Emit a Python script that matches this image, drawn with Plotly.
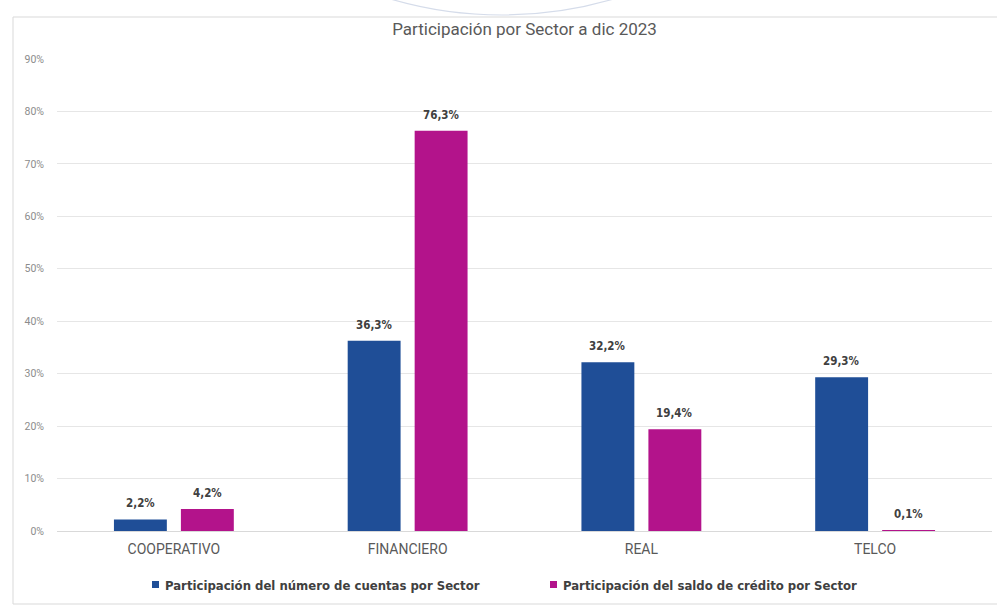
import plotly.graph_objects as go

sectores = ["COOPERATIVO", "FINANCIERO", "REAL", "TELCO"]
cuentas = [2.2, 36.3, 32.2, 29.3]
saldo = [4.2, 76.3, 19.4, 0.1]
serie_cuentas = "Participación del número de cuentas por Sector"
serie_saldo = "Participación del saldo de crédito por Sector"
ticks_y = [0, 10, 20, 30, 40, 50, 60, 70, 80, 90]

AZUL = "#1F4E97"
MAGENTA = "#B3138B"
FONT = "DejaVu Sans Condensed, Roboto, Arial"

W, H = 997, 606
L, R, T, B = 57, 5, 59, 75
OFFSET = 33.5  # horizontal distance from category centre to each bar centre


def etiqueta(v):
    return f"{v:.1f}".replace(".", ",") + "%"


pw = W - L - R
ph = H - T - B


def px_x(x):
    return (x - L) / pw


def px_y(y):
    return (H - B - y) / ph


fig = go.Figure()
for nombre, vals, color in [(serie_cuentas, cuentas, AZUL), (serie_saldo, saldo, MAGENTA)]:
    fig.add_trace(go.Bar(
        x=sectores, y=vals, name=nombre,
        marker=dict(color=color, line=dict(width=0)),
        hoverinfo="skip", showlegend=False,
    ))

# value labels above each bar
for vals, shift in [(cuentas, -OFFSET), (saldo, OFFSET)]:
    for cat, v in zip(sectores, vals):
        fig.add_annotation(x=cat, y=v, xref="x", yref="y", xshift=shift, yshift=7,
                           text=etiqueta(v), showarrow=False, yanchor="bottom",
                           font=dict(family=FONT, size=11.5, color="#404040", weight="bold"))

# legend drawn as small squares + labels
for nombre, color, xs in [(serie_cuentas, AZUL, 155), (serie_saldo, MAGENTA, 553)]:
    fig.add_shape(type="rect", xref="paper", yref="paper",
                  x0=px_x(xs - 3), x1=px_x(xs + 4), y0=px_y(588), y1=px_y(581),
                  fillcolor=color, line=dict(width=0))
    fig.add_annotation(x=px_x(xs + 8), y=px_y(585), xref="paper", yref="paper",
                       text=nombre, showarrow=False, xanchor="left", yanchor="middle",
                       font=dict(family=FONT, size=13, color="#404040", weight="bold"))

fig.update_layout(
    width=W, height=H,
    margin=dict(l=L, r=R, t=T, b=B),
    paper_bgcolor="white", plot_bgcolor="white",
    barmode="group", bargap=0.427, bargroupgap=0.21,
    title=dict(text="Participación por Sector a dic 2023", x=0.5, xref="paper",
               y=1 - 29 / H, yanchor="middle",
               font=dict(family="Roboto, Arial", size=17, color="#595959")),
    xaxis=dict(showgrid=False, showline=False, ticks="", ticklabelstandoff=8,
               tickfont=dict(family="Roboto, Arial", size=14, color="#595959")),
    yaxis=dict(range=[0, 90], tickvals=ticks_y,
               ticktext=[f"{t}%" for t in ticks_y],
               showgrid=True, gridcolor="#E6E6E6", gridwidth=1,
               zeroline=True, zerolinecolor="#D9D9D9", zerolinewidth=1,
               showline=False, ticks="", ticklabelstandoff=12,
               tickfont=dict(family="Roboto, Arial", size=10.5, color="#8C8C8C")),
    showlegend=False,
)

# outer frame of the chart area
fig.add_shape(type="rect", xref="paper", yref="paper",
              x0=px_x(13), x1=px_x(1010), y0=px_y(604), y1=px_y(17),
              line=dict(color="#D9D9D9", width=1), fillcolor="rgba(0,0,0,0)", layer="below")
# faint decorative ring at the top edge
fig.add_shape(type="circle", xref="paper", yref="paper",
              x0=px_x(106), x1=px_x(898), y0=px_y(15), y1=px_y(-777),
              line=dict(color="#D5DCEA", width=1.2), layer="below")

fig.write_html("out.html")
